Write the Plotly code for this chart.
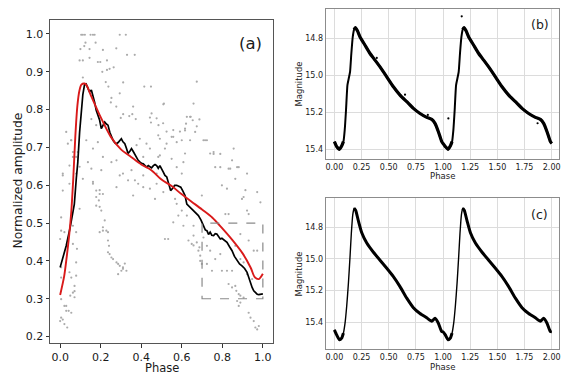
import numpy as np
import plotly.graph_objects as go

# ---------------- Panel (a) data ----------------
scatter_x = [0.104,0.112,0.122,0.15,0.162,0.17,0.294,0.324,0.125,0.175,0.119,0.1,0.145,0.211,0.277,0.33,0.368,
             0.096,0.112,0.145,0.186,0.198,0.231,0.208,0.231,0.244,0.264,0.112,0.225,0.238,0.311,0.415,0.448,
             0.294,0.253,0.25,0.277,0.36,0.311,0.341,0.356,0.299,0.373,0.443,0.154,0.448,0.485,0.178,
             0.674,0.625,0.644,0.654,0.658,0.509,0.451,0.476,0.525,0.558,0.591,0.55,0.525,0.715,0.757,0.79,
             0.856,0.873,0.839,0.922,0.914,0.6,0.484,0.476,0.41,0.41,0.352,0.369,0.31,0.278,0.278,0.203,
             0.162,0.195,0.178,0.013,0.038,0.054,0.063,0.046,0.079,0.096,0.087,
             0.512,0.641,0.687,0.508,0.621,0.674,0.616,
             0.03,0.055,0.063,0.046,0.079,0.129,0.162,0.137,0.186,0.211,0.253,0.154,0.112,0.162,0.178,0.195,
             0.211,0.191,0.178,0.195,0.203,0.22,0.211,0.236,0.294,0.335,0.385,0.41,0.36,0.443,0.476,0.468,
             0.426,0.393,0.377,0.443,0.484,0.492,0.013,0.013,0.005,0.021,0.063,0.079,0.096,
             0.492,0.517,0.558,0.575,0.6,0.616,0.641,0.666,0.707,0.724,0.616,0.55,0.575,0.608,0.74,0.757,
             0.848,0.765,0.79,0.831,0.881,0.864,0.509,0.567,0.575,0.6,0.625,0.583,0.558,0.608,0.658,0.699,
             0.798,0.823,0.815,0.831,0.905,0.897,0.922,0.93,0.972,0.988,
             0.005,0.0,0.063,0.083,0.079,0.005,0.046,0.005,0.055,0.079,0.071,0.063,0.071,0.05,0.071,0.005,
             0.021,0.03,0.03,0.042,0.055,0.005,0.013,0.0,0.021,0.035,0.195,0.211,0.228,0.236,0.241,0.236,
             0.244,0.253,0.261,0.278,0.286,0.294,0.31,0.319,0.302,0.31,0.327,0.286,
             0.517,0.533,0.633,0.649,0.658,0.674,0.682,0.691,0.687,0.691,0.699,0.707,0.724,0.74,0.724,0.765,
             0.749,0.79,0.798,0.823,0.848,0.864,0.889,0.831,0.848,0.864,0.869,0.881,0.889,0.873,0.889,0.881,
             0.905,0.93,0.939,0.955,0.963,0.98,0.972,0.955,0.972,0.947,0.905,0.93,0.889,0.922,0.658]
scatter_y = [0.998,0.998,0.998,0.998,0.998,0.998,0.998,0.998,0.977,0.977,0.968,0.96,0.96,0.958,0.962,0.945,0.945,
             0.93,0.93,0.937,0.926,0.926,0.93,0.9,0.905,0.908,0.912,0.885,0.873,0.861,0.872,0.861,0.861,
             0.843,0.831,0.819,0.808,0.808,0.788,0.783,0.788,0.778,0.775,0.779,0.775,0.766,0.759,0.759,
             0.874,0.781,0.781,0.772,0.816,0.814,0.79,0.777,0.742,0.746,0.742,0.728,0.71,0.719,0.683,0.683,
             0.697,0.648,0.644,0.631,0.587,0.631,0.675,0.631,0.595,0.675,0.64,0.613,0.631,0.666,0.595,0.64,
             0.609,0.587,0.569,0.631,0.71,0.719,0.675,0.604,0.631,0.649,0.688,
             0.816,0.781,0.774,0.764,0.763,0.756,0.75,
             0.741,0.719,0.688,0.652,0.675,0.719,0.697,0.661,0.714,0.675,0.661,0.644,0.617,0.604,0.586,0.577,
             0.577,0.56,0.546,0.543,0.533,0.507,0.489,0.476,0.626,0.613,0.604,0.626,0.573,0.591,0.604,0.564,
             0.71,0.723,0.706,0.697,0.732,0.679,0.626,0.586,0.515,0.476,0.493,0.476,0.538,
             0.723,0.697,0.728,0.714,0.719,0.745,0.719,0.741,0.719,0.719,0.684,0.67,0.648,0.661,0.684,0.688,
             0.666,0.648,0.648,0.644,0.648,0.617,0.582,0.564,0.551,0.533,0.52,0.52,0.502,0.493,0.493,0.573,
             0.6,0.591,0.524,0.524,0.569,0.564,0.533,0.524,0.582,0.555,
             0.48,0.458,0.445,0.432,0.396,0.383,0.37,0.356,0.356,0.361,0.334,0.316,0.32,0.308,0.304,0.299,
             0.281,0.281,0.268,0.268,0.263,0.25,0.245,0.241,0.233,0.224,0.476,0.48,0.48,0.454,0.44,0.423,
             0.418,0.409,0.405,0.396,0.392,0.387,0.383,0.393,0.374,0.379,0.374,0.365,
             0.458,0.458,0.454,0.445,0.441,0.449,0.427,0.414,0.436,0.4,0.392,0.462,0.44,0.427,0.392,0.405,
             0.374,0.418,0.374,0.374,0.374,0.44,0.405,0.339,0.33,0.334,0.321,0.312,0.308,0.294,0.29,0.281,
             0.303,0.263,0.25,0.241,0.224,0.228,0.219,0.427,0.427,0.352,0.396,0.454,0.471,0.365,0.467]

mean_x = [0.0,0.03,0.05,0.07,0.08,0.087,0.096,0.104,0.112,0.12,0.128,0.137,0.145,0.154,0.162,0.17,0.178,
          0.187,0.195,0.203,0.212,0.22,0.228,0.236,0.245,0.253,0.261,0.27,0.278,0.286,0.294,0.302,0.31,
          0.319,0.327,0.335,0.344,0.352,0.36,0.369,0.377,0.385,0.393,0.402,0.41,0.418,0.426,0.435,0.443,
          0.451,0.46,0.468,0.476,0.484,0.492,0.5,0.509,0.517,0.526,0.535,0.545,0.555,0.565,0.575,0.585,
          0.595,0.605,0.616,0.625,0.635,0.645,0.657,0.668,0.682,0.695,0.707,0.716,0.724,0.732,0.74,0.748,
          0.757,0.765,0.773,0.781,0.79,0.798,0.81,0.823,0.835,0.848,0.86,0.873,0.885,0.897,0.91,0.922,
          0.93,0.939,0.947,0.955,0.963,0.972,0.98,0.988,1.0]
mean_y = [0.383,0.44,0.49,0.55,0.62,0.66,0.74,0.80,0.84,0.865,0.868,0.857,0.847,0.852,0.838,0.82,0.798,
          0.785,0.772,0.75,0.76,0.767,0.762,0.759,0.74,0.728,0.719,0.712,0.71,0.713,0.718,0.723,0.715,
          0.71,0.698,0.684,0.69,0.697,0.69,0.68,0.672,0.666,0.662,0.658,0.657,0.652,0.648,0.652,0.648,
          0.646,0.652,0.655,0.652,0.645,0.652,0.645,0.635,0.626,0.622,0.605,0.586,0.592,0.6,0.6,0.598,
          0.595,0.585,0.573,0.55,0.545,0.538,0.533,0.526,0.52,0.508,0.493,0.482,0.48,0.47,0.476,0.468,
          0.467,0.472,0.471,0.463,0.458,0.46,0.454,0.449,0.438,0.427,0.412,0.4,0.392,0.387,0.38,0.37,
          0.356,0.339,0.33,0.321,0.316,0.312,0.311,0.312,0.313]

fit_x = [0.0,0.02,0.03,0.045,0.055,0.065,0.075,0.085,0.095,0.105,0.12,0.13,0.15,0.2,0.25,0.3,0.35,0.4,
         0.45,0.5,0.55,0.6,0.65,0.7,0.75,0.8,0.85,0.9,0.94,0.96,0.98,1.0]
fit_y = [0.31,0.36,0.40,0.47,0.53,0.62,0.73,0.81,0.85,0.866,0.869,0.865,0.84,0.78,0.728,0.695,0.675,0.655,
         0.64,0.615,0.598,0.576,0.556,0.536,0.515,0.486,0.455,0.42,0.382,0.357,0.352,0.366]

box_x = [0.7, 1.0]
box_y = [0.3, 0.5]

# ---------------- Panel (b) data: one phase cycle (shown twice) ----------------
b_phase = [0.0,0.021,0.046,0.067,0.083,0.095,0.107,0.12,0.132,0.144,0.156,0.169,0.181,0.193,0.212,0.236,
           0.282,0.328,0.374,0.42,0.482,0.543,0.604,0.666,0.727,0.788,0.85,0.896,0.926,0.957,0.988,1.0]
b_mag = [15.36,15.387,15.402,15.384,15.36,15.297,15.188,15.053,15.017,14.981,14.881,14.791,14.751,14.74,
         14.758,14.791,14.836,14.881,14.917,14.954,15.008,15.062,15.107,15.143,15.179,15.207,15.228,15.239,
         15.261,15.306,15.36,15.37]
b_out_x = [1.172,0.39,0.65,1.049,0.86,1.87]
b_out_y = [14.679,14.905,15.105,15.234,15.215,15.26]

# ---------------- Panel (c) data ----------------
c_phase = [0.0,0.021,0.046,0.067,0.083,0.098,0.113,0.129,0.144,0.156,0.169,0.181,0.196,0.221,0.252,0.298,
           0.359,0.42,0.482,0.543,0.604,0.666,0.727,0.788,0.85,0.896,0.926,0.957,0.988,1.0]
c_mag = [15.448,15.48,15.511,15.501,15.469,15.406,15.301,15.154,14.985,14.838,14.722,14.68,14.693,14.76,
         14.835,14.9,14.958,15.008,15.059,15.112,15.175,15.248,15.308,15.345,15.372,15.394,15.375,15.406,
         15.459,15.46]

xticks_a = [0.0, 0.2, 0.4, 0.6, 0.8, 1.0]
yticks_a = [0.2, 0.3, 0.4, 0.5, 0.6, 0.7, 0.8, 0.9, 1.0]
xticks_bc = [0.0, 0.25, 0.5, 0.75, 1.0, 1.25, 1.5, 1.75, 2.0]
yticks_bc = [14.8, 15.0, 15.2, 15.4]

# The page body adds an 8px offset; the figure is sized so that the page matches 570x386.
OFF = 8
W, H = 570 - OFF, 386 - OFF
FONT = "DejaVu Sans"
TXT = "#1a1a1a"


def px(x):
    return (x - OFF) / W


def py(y):
    return 1 - (y - OFF) / H


fig = go.Figure()

# Panel (a)
fig.add_trace(go.Scatter(x=scatter_x, y=scatter_y, mode="markers", xaxis="x", yaxis="y",
                         marker=dict(size=2.2, color="#ababab"), showlegend=False, hoverinfo="skip"))
fig.add_trace(go.Scatter(x=mean_x, y=mean_y, mode="lines", xaxis="x", yaxis="y",
                         line=dict(color="black", width=1.7), showlegend=False))
fig.add_trace(go.Scatter(x=fit_x, y=fit_y, mode="lines", xaxis="x", yaxis="y",
                         line=dict(color="#d91a1a", width=1.9, shape="spline", smoothing=0.8), showlegend=False))


def two_cycles(ph, mg):
    ph = np.asarray(ph, dtype=float)
    mg = np.asarray(mg, dtype=float)
    x = np.concatenate([ph, ph[1:] + 1.0])
    y = np.concatenate([mg, mg[1:]])
    return x, y


def add_curve(ph, mg, xa, ya, thin, thick):
    x, y = two_cycles(ph, mg)
    fig.add_trace(go.Scatter(x=x, y=y, mode="lines", xaxis=xa, yaxis=ya,
                             line=dict(color="black", width=thin, shape="spline", smoothing=0.5),
                             showlegend=False))
    frac = np.mod(x, 1.0)
    rising = (frac > 0.09) & (frac < 0.175)
    yt = np.where(rising, np.nan, y)
    fig.add_trace(go.Scatter(x=x, y=yt, mode="lines", xaxis=xa, yaxis=ya, connectgaps=False,
                             line=dict(color="black", width=thick, shape="spline", smoothing=0.5),
                             showlegend=False))


add_curve(b_phase, b_mag, "x2", "y2", 2.0, 3.2)
fig.add_trace(go.Scatter(x=b_out_x, y=b_out_y, mode="markers", xaxis="x2", yaxis="y2",
                         marker=dict(size=2.2, color="black"), showlegend=False))
add_curve(c_phase, c_mag, "x3", "y3", 1.4, 3.0)

# Domains (pixel-derived)
dom_ax = [px(50), px(273)]
dom_ay = [py(343), py(20)]
dom_bx = [px(325.7), px(559.3)]
dom_by = [py(159.3), py(8.6)]
dom_cy = [py(349.3), py(198.3)]

axis_a = dict(showline=True, linecolor="#555", linewidth=1, mirror=True, showgrid=False, zeroline=False,
              ticks="outside", ticklen=3.5, tickcolor="#333", tickwidth=1,
              tickfont=dict(family=FONT, size=11, color=TXT))
axis_bc = dict(showline=True, linecolor="#8c8c8c", linewidth=1, mirror=True, showgrid=True,
               gridcolor="#dcdcdc", gridwidth=1, zeroline=False, ticks="",
               tickfont=dict(family=FONT, size=8, color=TXT))

fig.update_layout(
    width=W, height=H, autosize=False,
    margin=dict(l=0, r=0, t=0, b=0),
    paper_bgcolor="white", plot_bgcolor="white",
    template="none",
    font=dict(family=FONT, color=TXT),
    xaxis=dict(axis_a, domain=dom_ax, range=[-0.05, 1.05], anchor="y",
               tickvals=xticks_a, tickformat=".1f"),
    yaxis=dict(axis_a, domain=dom_ay, range=[0.183, 1.037], anchor="x",
               tickvals=yticks_a, tickformat=".1f"),
    xaxis2=dict(axis_bc, domain=dom_bx, range=[-0.08, 2.07], anchor="y2",
                tickvals=xticks_bc, tickformat=".2f"),
    yaxis2=dict(axis_bc, domain=dom_by, range=[15.456, 14.637], anchor="x2",
                tickvals=yticks_bc, tickformat=".1f"),
    xaxis3=dict(axis_bc, domain=dom_bx, range=[-0.08, 2.07], anchor="y3",
                tickvals=xticks_bc, tickformat=".2f"),
    yaxis3=dict(axis_bc, domain=dom_cy, range=[15.571, 14.617], anchor="x3",
                tickvals=yticks_bc, tickformat=".1f"),
    shapes=[dict(type="rect", xref="x", yref="y", x0=box_x[0], x1=box_x[1], y0=box_y[0], y1=box_y[1],
                 line=dict(color="#8a8a8a", width=1.2, dash="dash"), fillcolor="rgba(0,0,0,0)")],
)

ann = [
    dict(text="Phase", x=px(161.5), y=py(368), size=11.5, angle=0),
    dict(text="Normalized amplitude", x=px(17.5), y=py(181), size=12.3, angle=-90),
    dict(text="(a)", x=px(250), y=py(43.5), size=16.5, angle=0),
    dict(text="Phase", x=px(442.5), y=py(175.5), size=8.5, angle=0),
    dict(text="Magnitude", x=px(298.5), y=py(84), size=8.5, angle=-90),
    dict(text="(b)", x=px(539.5), y=py(24), size=12.5, angle=0),
    dict(text="Phase", x=px(442.5), y=py(367), size=8.5, angle=0),
    dict(text="Magnitude", x=px(298.5), y=py(274), size=8.5, angle=-90),
    dict(text="(c)", x=px(539.5), y=py(214), size=12.5, angle=0),
]
for a in ann:
    fig.add_annotation(text=a["text"], x=a["x"], y=a["y"], xref="paper", yref="paper",
                       xanchor="center", yanchor="middle", showarrow=False, textangle=a["angle"],
                       font=dict(family=FONT, size=a["size"], color=TXT))

fig.write_html("out.html")
